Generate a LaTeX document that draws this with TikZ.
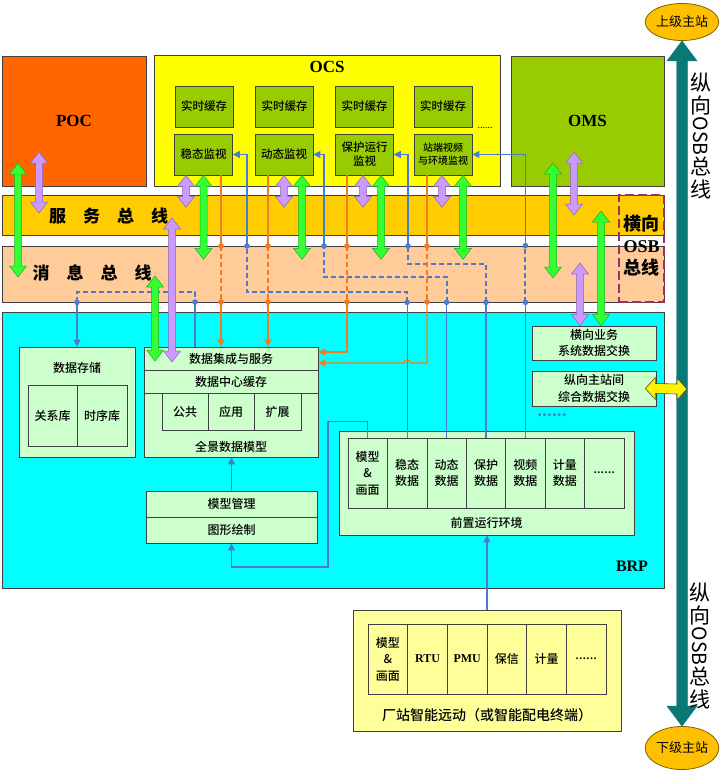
\documentclass[tikz,border=0pt]{standalone}
\usepackage{fontspec}
\setmainfont{Noto Sans CJK SC}
\newfontfamily\cjkm{Noto Sans CJK SC Medium}
\newfontfamily\lat{Liberation Serif}
\usepackage{graphicx}
\usepackage{tikz}
\usetikzlibrary{arrows.meta, positioning, calc, shapes.geometric}

\definecolor{pocorange}{HTML}{FF6600}
\definecolor{ocsyellow}{HTML}{FFFF00}
\definecolor{omsgreen}{HTML}{99CC00}
\definecolor{svcbus}{HTML}{FFCC00}
\definecolor{msgbus}{HTML}{FFCC99}
\definecolor{brpcyan}{HTML}{00FFFF}
\definecolor{paleg}{HTML}{CCFFCC}
\definecolor{paley}{HTML}{FFFF99}
\definecolor{arrgreen}{HTML}{33FF33}
\definecolor{arrgreenedge}{HTML}{22AA22}
\definecolor{arrlav}{HTML}{CC99FF}
\definecolor{arrlavedge}{HTML}{8866BB}
\definecolor{osbteal}{HTML}{0B7878}
\definecolor{linkblue}{HTML}{4A7BD0}
\definecolor{linkorange}{HTML}{F47A20}
\definecolor{dashpurple}{HTML}{993366}
\definecolor{stationor}{HTML}{FFC000}
\definecolor{stationedge}{HTML}{806000}
\definecolor{boxedge}{HTML}{404040}

\newcommand{\moredots}{......}

% block double arrow, vertical: top, bottom, shaft half, head half, head length, style
\newcommand{\dblarrow}[6]{%
  \path (#1) coordinate (da-a) (#2) coordinate (da-b);
  \filldraw[#6] (da-a) -- ($(da-a)+(#4,#5)$) -- ($(da-a)+(#3,#5)$) -- ($(da-b)+(#3,-#5)$)
    -- ($(da-b)+(#4,-#5)$) -- (da-b) -- ($(da-b)+(-#4,-#5)$) -- ($(da-b)+(-#3,-#5)$)
    -- ($(da-a)+(-#3,#5)$) -- ($(da-a)+(-#4,#5)$) -- cycle;}
% same, horizontal: left, right
\newcommand{\hdblarrow}[6]{%
  \path (#1) coordinate (da-a) (#2) coordinate (da-b);
  \filldraw[#6] (da-a) -- ($(da-a)+(#5,-#4)$) -- ($(da-a)+(#5,-#3)$) -- ($(da-b)+(-#5,-#3)$)
    -- ($(da-b)+(-#5,-#4)$) -- (da-b) -- ($(da-b)+(-#5,#4)$) -- ($(da-b)+(-#5,#3)$)
    -- ($(da-a)+(#5,#3)$) -- ($(da-a)+(#5,#4)$) -- cycle;}

\begin{document}
\begin{tikzpicture}[x=1pt, y=-1pt,
  blk/.style={draw=boxedge, line width=0.7pt, inner sep=0pt, align=center},
  cache/.style={blk, fill=omsgreen, minimum width=58pt, minimum height=41pt, font=\cjkm\fontsize{11.5}{14}\selectfont},
  pale/.style={blk, fill=paleg, font=\cjkm\fontsize{12}{16.5}\selectfont},
  bus/.style={blk, fill=#1, minimum width=662pt},
  bigtitle/.style={font=\lat\bfseries\fontsize{17}{20}\selectfont},
  bustext/.style={font=\bfseries\fontsize{17}{20}\selectfont},
  plain/.style={font=\cjkm\fontsize{12}{14}\selectfont},
  vtext/.style={font=\fontsize{21}{23}\selectfont, align=center, inner sep=0pt},
  link/.style={linkblue, line width=1.1pt},
  linkd/.style={linkblue, line width=2pt, dash pattern=on 5pt off 3pt},
  olink/.style={linkorange, line width=1.4pt},
  olinkd/.style={linkorange, line width=2pt, dash pattern=on 5pt off 3pt},
  endtip/.style={-{Triangle[length=7pt,width=7pt]}},
  garrow/.style={fill=arrgreen, draw=arrgreenedge, line width=0.5pt},
  larrow/.style={fill=arrlav, draw=arrlavedge, line width=0.5pt},
  station/.style={ellipse, draw=stationedge, line width=0.8pt, fill=stationor, inner sep=0pt, font=\fontsize{13}{15}\selectfont},
]
\fill[white] (0,0) rectangle (720,773);
\useasboundingbox (0,0) rectangle (720,773);

% upper systems
\node[blk, fill=pocorange, minimum width=144pt, minimum height=130pt, bigtitle] (poc) at (74,121) {POC};
\node[blk, fill=ocsyellow, minimum width=346pt, minimum height=131pt] (ocs) at (327,120.5) {};
\node[bigtitle] (ocsl) at (327,67) {OCS};
\node[blk, fill=omsgreen, minimum width=153pt, minimum height=130pt, bigtitle] (oms) at (587.5,121) {OMS};

\foreach \x [count=\i] in {204,284.5,364.5,443}
  \node[cache] (c\i) at (\x,106.5) {实时缓存};
\node[cache] (m1) at (203.5,154.5) {稳态监视};
\node[cache] (m2) at (284,154.5) {动态监视};
\node[cache] (m3) at (364.5,154.5) {保护运行\\监视};
\node[cache, font=\cjkm\fontsize{10}{13}\selectfont] (m4) at (443,154.5) {站端视频\\与环境监视};
\node[font=\fontsize{9}{10}\selectfont] (ocsdots) at (485,128) {\moredots};

% buses
\node[bus=svcbus, minimum height=40pt] (svc) at (333,215) {};
\node[bus=msgbus, minimum height=56pt] (msg) at (333,274) {};
\node[bus=brpcyan, minimum height=276pt] (brp) at (333,450) {};
\node[bigtitle, font=\lat\bfseries\fontsize{16}{18}\selectfont] (brpl) at (632,566) {BRP};

% BRP inside
\node[pale, minimum width=116pt, minimum height=110pt] (st) at (77,402) {};
\node[plain] (stl) at (77,368) {数据存储};
\node[pale, minimum width=49pt, minimum height=61pt] (rel) at (52.5,415.5) {关系库};
\node[pale, minimum width=50pt, minimum height=61pt] (tsd) at (102,415.5) {时序库};

\node[pale, minimum width=174pt, minimum height=23pt] (jc) at (231,358.5) {数据集成与服务};
\node[pale, minimum width=174pt, minimum height=23pt] (hc) at (231,381.5) {数据中心缓存};
\node[pale, minimum width=174pt, minimum height=64pt] (qj) at (231,425) {};
\node[pale, minimum width=46pt, minimum height=37pt] (gg) at (185,411.5) {公共};
\node[pale, minimum width=46pt, minimum height=37pt] (yy) at (231,411.5) {应用};
\node[pale, minimum width=47pt, minimum height=37pt] (kz) at (277.5,411.5) {扩展};
\node[plain] (qjl) at (231,447) {全景数据模型};

\node[pale, minimum width=171pt, minimum height=26pt] (mg) at (231.5,504) {模型管理};
\node[pale, minimum width=171pt, minimum height=26pt] (tx) at (231.5,530) {图形绘制};

\node[pale, minimum width=124pt, minimum height=34pt] (hx) at (594,343) {横向业务\\系统数据交换};
\node[pale, minimum width=124pt, minimum height=35pt] (zx) at (594,388.5) {纵向主站间\\综合数据交换};
\node[text=linkblue, font=\bfseries\fontsize{14}{14}\selectfont] (brpdots) at (552,415) {\moredots};

\node[pale, minimum width=295pt, minimum height=104pt] (qz) at (486.5,483) {};
\foreach \t [count=\i from 0] in {{模型\\\&\\画面},{稳态\\数据},{动态\\数据},{保护\\数据},{视频\\数据},{计量\\数据},\moredots}
  \node[pale, minimum width=39.43pt, minimum height=70pt] (q\i) at ({348+39.43*(\i+0.5)},473) {\t};
\node[plain] (qzl) at (486.5,523) {前置运行环境};

% substation terminal
\node[blk, fill=paley, minimum width=268pt, minimum height=121pt] (cz) at (487,670.5) {};
\foreach \t [count=\i from 0] in {{模型\\\&\\画面},{\lat\bfseries RTU},{\lat\bfseries PMU},保信,计量,\moredots}
  \node[pale, fill=paley, minimum width=39.67pt, minimum height=70pt] (z\i) at ({368+39.67*(\i+0.5)},659) {\t};
\node[font=\cjkm\fontsize{14}{16}\selectfont] (czl) at (487,715) {厂站智能远动（或智能配电终端）};

% vertical OSB
\node[station, minimum width=72pt, minimum height=37pt] (up) at (682,22) {上级主站};
\node[station, minimum width=73pt, minimum height=43pt] (down) at (682,748) {下级主站};
\dblarrow{up.south}{down.north}{5.5}{15}{20}{fill=osbteal, draw=osbteal}
\node[vtext, anchor=north] (vt1) at (701,73) {纵\\向};
\node[rotate=-90, anchor=west, inner sep=1pt, font=\fontsize{19.5}{19.5}\selectfont] (vt2) at (vt1.south) {OSB};
\node[vtext, anchor=north] (vt3) at (vt2.east) {总\\线};
\node[vtext, anchor=north] (vb1) at (700,583) {纵\\向};
\node[rotate=-90, anchor=west, inner sep=1pt, font=\fontsize{19.5}{19.5}\selectfont] (vb2) at (vb1.south) {OSB};
\node[vtext, anchor=north] (vb3) at (vb2.east) {总\\线};

% blue: front-end data up to the monitors
\draw[link] (q1.north) -- (q1.north |- msg.south);
\draw[linkd] (q1.north |- msg.south) -- ++(0,-10) -| (247,246);
\draw[link, endtip] (247,246) |- (m1.east);
\draw[link] (q2.north) -- (q2.north |- msg.south);
\draw[linkd] (q2.north |- msg.south) -- ++(0,-25) -| (324,246);
\draw[link, endtip] (324,246) |- (m2.east);
\draw[link] (q3.north) -- (q3.north |- msg.south);
\draw[linkd] (q3.north |- msg.south) -- ++(0,-38) -| (408,246);
\draw[link, endtip] (408,246) |- (m3.east);
\draw[link] (q4.north) -- (q4.north |- msg.south);
\draw[linkd] (q4.north |- msg.south) -- (q4.north |- msg.north);
\draw[link, endtip] (q4.north |- msg.north) |- (m4.east);
\foreach \n in {q1,q2,q3,q4}
  \fill[linkblue] (\n.north |- msg.south) circle (2.8pt);
\fill[linkblue] (247,246) circle (2.8pt) (324,246) circle (2.8pt) (408,246) circle (2.8pt)
  (q4.north |- msg.north) circle (2.8pt);

% storage
\draw[linkd] (st.north |- msg.south) -- ++(0,-10) -| (195,302);
\draw[link, endtip] (st.north |- msg.south) -- (st.north);
\draw[link] (195,302) -- (jc.north -| 195,302);
\fill[linkblue] (st.north |- msg.south) circle (2.8pt) (195,302) circle (2.8pt);

% orange: monitors to data integration
\foreach \x/\m in {221/m1, 268/m2, 347/m3, 427/m4} {
  \draw[olink] (\m.south -| \x,0) -- (\x,246);
  \draw[olinkd] (\x,246) -- (\x,302);
  \fill[linkorange] (\x,246) circle (2.8pt) (\x,302) circle (2.8pt);
}
\draw[olink, endtip] (221,302) -- (jc.north -| 221,0);
\draw[olink, endtip] (268,302) -- (jc.north -| 268,0);
\draw[olink, endtip] (347,302) |- (jc.east |- 0,352);
\draw[olink, endtip] (427,302) -- (427,363) -- (410,363) arc (0:180:3pt) -- (jc.east |- 0,363);

% model chain
\draw[link, endtip] (mg.north) -- (mg.north |- qj.south);
\draw[link, endtip] (q0.north) -- ++(0,-16) -| (328,567) -| (tx.south);
\draw[link, endtip] (cz.north) -- (cz.north |- qz.south);

% block arrows
\dblarrow{18,163}{18,277}{3.5}{8.5}{11}{garrow}
\dblarrow{39,152}{39,213}{3.5}{8.5}{11}{larrow}
\dblarrow{$(m1.south)+(-17.5,0)$}{$(m1.south)+(-17.5,32)$}{3.5}{8.5}{11}{larrow}
\dblarrow{m1.south}{$(m1.south)+(0,84)$}{3.5}{8.5}{11}{garrow}
\dblarrow{m2.south}{$(m2.south)+(0,32)$}{3.5}{8.5}{11}{larrow}
\dblarrow{$(m2.south)+(18,0)$}{$(m2.south)+(18,84)$}{3.5}{8.5}{11}{garrow}
\dblarrow{$(m3.south)+(-1.5,0)$}{$(m3.south)+(-1.5,32)$}{3.5}{8.5}{11}{larrow}
\dblarrow{$(m3.south)+(16.5,0)$}{$(m3.south)+(16.5,84)$}{3.5}{8.5}{11}{garrow}
\dblarrow{$(m4.south)+(-1,0)$}{$(m4.south)+(-1,32)$}{3.5}{8.5}{11}{larrow}
\dblarrow{$(m4.south)+(20,0)$}{$(m4.south)+(20,84)$}{3.5}{8.5}{11}{garrow}
\dblarrow{172,218}{172,362}{3.5}{8.5}{11}{larrow}
\dblarrow{155,276}{155,361}{3.5}{8.5}{11}{garrow}
\dblarrow{553,163}{553,278}{3.5}{8.5}{11}{garrow}
\dblarrow{574,152}{574,215}{3.5}{8.5}{11}{larrow}
\dblarrow{601,211}{$(hx.north)+(7,0)$}{3.5}{8.5}{11}{garrow}
\dblarrow{580,263}{$(hx.north)+(-14,0)$}{3.5}{8.5}{11}{larrow}
\hdblarrow{$(zx.east)+(-11,0)$}{687,389}{5}{11}{10}{fill=yellow, draw=black!70, line width=0.6pt}

% bus labels
\node[bustext] (svcl) at (108.5,216) {服\quad 务\quad 总\quad 线};
\node[bustext] (msgl) at (92,273) {消\quad 息\quad 总\quad 线};

% horizontal OSB
\node[draw=dashpurple, line width=2.2pt, dash pattern=on 9pt off 4pt, minimum width=45pt, minimum height=107pt, inner sep=0pt] (hosb) at (641.5,248.5) {};
\node[align=center, font=\bfseries\fontsize{18}{22}\selectfont] (hosbl) at (641.5,246) {横向\\{\lat\bfseries OSB}\\总线};
\end{tikzpicture}
\end{document}
